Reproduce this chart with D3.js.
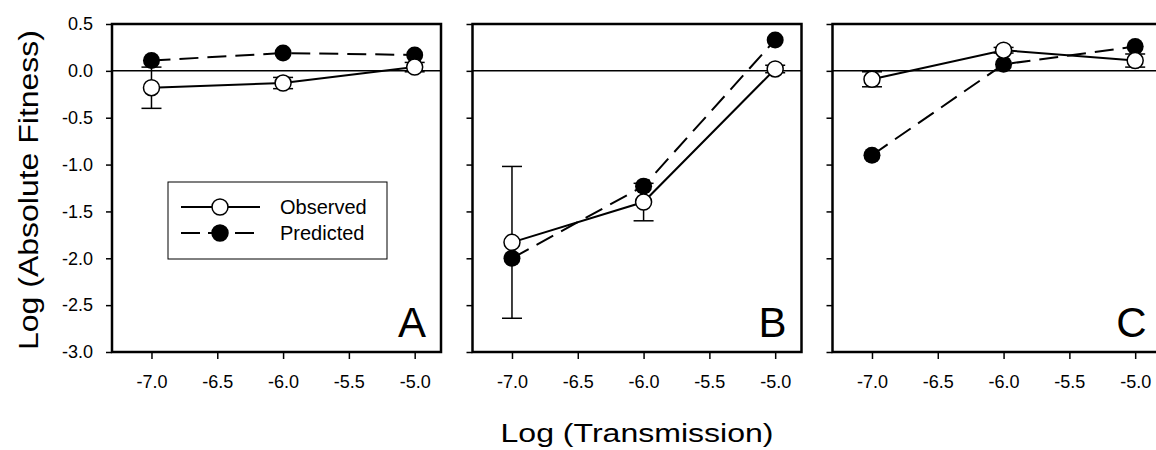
<!DOCTYPE html>
<html>
<head>
<meta charset="utf-8">
<script src="https://cdn.jsdelivr.net/npm/d3@7"></script>
<style>
  body { margin: 0; background: #fff; }
  svg { display: block; font-family: "Liberation Sans", Arial, sans-serif; }
</style>
</head>
<body>
<script>
// data
var transmission = [-7.0, -6.0, -5.0];
var xTicks = [-7.0, -6.5, -6.0, -5.5, -5.0];
var yTicks = [0.5, 0.0, -0.5, -1.0, -1.5, -2.0, -2.5, -3.0];
var panelNames = ["A", "B", "C"];

var observedA = [-0.18, -0.13, 0.04];
var observedErrA = [0.22, 0.06, 0.05];
var predictedA = [0.11, 0.19, 0.17];

var observedB = [-1.83, -1.40, 0.02];
var observedErrB = [0.81, 0.20, 0.04];
var predictedB = [-2.00, -1.23, 0.33];

var observedC = [-0.09, 0.22, 0.11];
var observedErrC = [0.08, 0.03, 0.07];
var predictedC = [-0.90, 0.07, 0.26];

var panels = [
    {name: panelNames[0], obs: observedA, err: observedErrA, pred: predictedA, left: 112},
    {name: panelNames[1], obs: observedB, err: observedErrB, pred: predictedB, left: 472.5},
    {name: panelNames[2], obs: observedC, err: observedErrC, pred: predictedC, left: 832.5}
];

var width = 1156, height = 450;
var pw = 329, ph = 328, topY = 24;
var dash = "19,9";

var svg = d3.select("body").append("svg")
    .attr("width", width)
    .attr("height", height);

var x = d3.scaleLinear().domain([-7.3, -4.8]).range([0, pw]);
var y = d3.scaleLinear().domain([-3.0, 0.5]).range([ph, 0]);
var fmt = function(d) { return d.toFixed(1); };

var line = d3.line()
    .x(function(d) { return x(d[0]); })
    .y(function(d) { return y(d[1]); });

panels.forEach(function(p, i) {
    var g = svg.append("g").attr("transform", "translate(" + p.left + "," + topY + ")");

    // y axis
    var ya = g.append("g").call(d3.axisLeft(y).tickValues(yTicks).tickSize(6).tickPadding(13)
        .tickFormat(i === 0 ? fmt : ""));
    ya.attr("font-family", null).attr("font-size", null);
    ya.select(".domain").remove();
    ya.selectAll("line").attr("stroke-width", 1.5);
    ya.selectAll("text").attr("font-size", 18).attr("fill", "#000");

    // x axis
    var xa = g.append("g").attr("transform", "translate(0," + ph + ")")
        .call(d3.axisBottom(x).tickValues(xTicks).tickSize(7).tickPadding(16).tickFormat(fmt));
    xa.attr("font-family", null).attr("font-size", null);
    xa.select(".domain").remove();
    xa.selectAll("line").attr("stroke-width", 1.5);
    xa.selectAll("text").attr("font-size", 18).attr("fill", "#000");

    // zero line
    g.append("line")
        .attr("x1", 0).attr("x2", pw)
        .attr("y1", y(0)).attr("y2", y(0))
        .attr("stroke", "#000").attr("stroke-width", 1.5);

    // frame
    g.append("rect")
        .attr("width", pw).attr("height", ph)
        .attr("fill", "none").attr("stroke", "#000").attr("stroke-width", 2.5);

    var obsPts = transmission.map(function(t, k) { return [t, p.obs[k]]; });
    var predPts = transmission.map(function(t, k) { return [t, p.pred[k]]; });

    // error bars
    transmission.forEach(function(t, k) {
        var lo = y(p.obs[k] - p.err[k]), hi = y(p.obs[k] + p.err[k]), cx = x(t);
        g.append("line").attr("x1", cx).attr("x2", cx).attr("y1", lo).attr("y2", hi)
            .attr("stroke", "#000").attr("stroke-width", 1.5);
        [lo, hi].forEach(function(yy) {
            g.append("line").attr("x1", cx - 10).attr("x2", cx + 10).attr("y1", yy).attr("y2", yy)
                .attr("stroke", "#000").attr("stroke-width", 1.5);
        });
    });

    // lines
    g.append("path").datum(predPts).attr("d", line)
        .attr("fill", "none").attr("stroke", "#000").attr("stroke-width", 2)
        .attr("stroke-dasharray", dash);
    g.append("path").datum(obsPts).attr("d", line)
        .attr("fill", "none").attr("stroke", "#000").attr("stroke-width", 2);

    // markers
    g.selectAll(".pred").data(predPts).enter().append("circle")
        .attr("class", "pred")
        .attr("cx", function(d) { return x(d[0]); })
        .attr("cy", function(d) { return y(d[1]); })
        .attr("r", 8.5).attr("fill", "#000");
    g.selectAll(".obs").data(obsPts).enter().append("circle")
        .attr("class", "obs")
        .attr("cx", function(d) { return x(d[0]); })
        .attr("cy", function(d) { return y(d[1]); })
        .attr("r", 8).attr("fill", "#fff").attr("stroke", "#000").attr("stroke-width", 1.5);

    // panel letter
    g.append("text")
        .attr("x", pw - 15).attr("y", ph - 15)
        .attr("text-anchor", "end")
        .attr("font-size", 42)
        .text(p.name);

    // legend in panel A
    if (i === 0) {
        var lg = g.append("g").attr("transform", "translate(" + (168 - p.left) + "," + (182 - topY) + ")");
        lg.append("rect").attr("width", 219).attr("height", 77)
            .attr("fill", "#fff").attr("stroke", "#000").attr("stroke-width", 1);
        var rows = [{label: "Observed", dash: null, fill: "#fff"},
                    {label: "Predicted", dash: "19,8", fill: "#000"}];
        rows.forEach(function(r, k) {
            var yy = 25 + k * 26;
            lg.append("line").attr("x1", 13).attr("x2", 92).attr("y1", yy).attr("y2", yy)
                .attr("stroke", "#000").attr("stroke-width", 2)
                .attr("stroke-dasharray", r.dash);
            lg.append("circle").attr("cx", 52).attr("cy", yy).attr("r", 8)
                .attr("fill", r.fill).attr("stroke", "#000").attr("stroke-width", 1.5);
            lg.append("text").attr("x", 112).attr("y", yy + 7)
                .attr("font-size", 20).text(r.label);
        });
    }
});

// axis titles
svg.append("text")
    .attr("transform", "translate(38,190) rotate(-90)")
    .attr("text-anchor", "middle")
    .attr("font-size", 27)
    .attr("textLength", 320)
    .attr("lengthAdjust", "spacingAndGlyphs")
    .text("Log (Absolute Fitness)");

svg.append("text")
    .attr("x", 637).attr("y", 442)
    .attr("text-anchor", "middle")
    .attr("font-size", 26)
    .attr("textLength", 273)
    .attr("lengthAdjust", "spacingAndGlyphs")
    .text("Log (Transmission)");
</script>
</body>
</html>
